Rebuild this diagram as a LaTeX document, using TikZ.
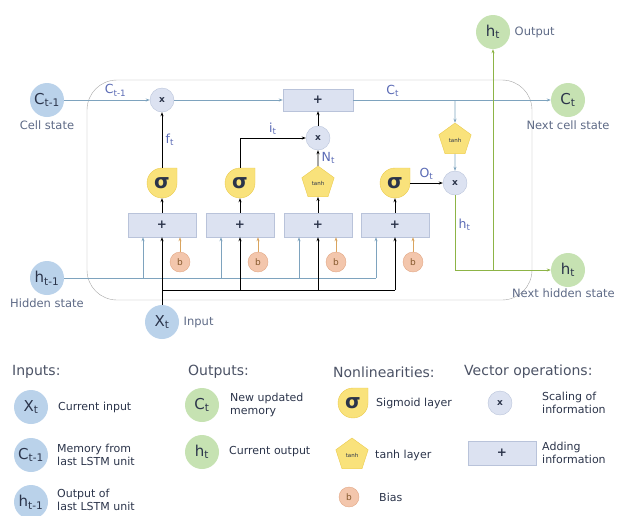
\documentclass[tikz,border=0pt]{standalone}
\usepackage{fontspec}
\setmainfont{DejaVu Sans}
\usetikzlibrary{arrows.meta, positioning, shapes.geometric}

\definecolor{inblue}{HTML}{BAD2EA}
\definecolor{outgreen}{HTML}{C6E2B2}
\definecolor{sigyellow}{HTML}{F9E27B}
\definecolor{sigedge}{HTML}{EBCB4E}
\definecolor{biasfill}{HTML}{F3C6AC}
\definecolor{biasedge}{HTML}{E2A684}
\definecolor{opfill}{HTML}{DCE2F1}
\definecolor{opedge}{HTML}{B9C3DA}
\definecolor{cellline}{HTML}{7EA3BE}
\definecolor{greenline}{HTML}{8DB446}
\definecolor{biasline}{HTML}{D9A45F}
\definecolor{labblue}{HTML}{5B6BB5}
\definecolor{capgrey}{HTML}{5E6A86}
\definecolor{ink}{HTML}{2B344A}

\begin{document}
\begin{tikzpicture}[
    x=1pt, y=-1pt,
    inp/.style={circle, fill=inblue, minimum size=34pt, inner sep=0pt, text=ink, font=\fontsize{15}{15}\selectfont},
    outp/.style={inp, fill=outgreen},
    gate/.style={circle, minimum size=30pt, inner sep=0pt, text=ink, font=\fontsize{20}{20}\selectfont\bfseries},
    tanhgate/.style={regular polygon, regular polygon sides=5, fill=sigyellow, draw=sigedge, minimum size=34pt, inner sep=0pt, text=ink, font=\fontsize{5.5}{6}\selectfont},
    mult/.style={circle, fill=opfill, draw=opedge, minimum size=24pt, inner sep=0pt, text=ink, font=\bfseries\small},
    addbox/.style={rectangle, fill=opfill, draw=opedge, minimum width=68pt, minimum height=24pt, inner sep=0pt, text=ink, font=\bfseries\large},
    bias/.style={circle, fill=biasfill, draw=biasedge, minimum size=20pt, inner sep=0pt, text=brown!70!black, font=\small},
    caption/.style={text=capgrey, font=\fontsize{11.5}{13}\selectfont},
    lab/.style={text=labblue, font=\fontsize{12.5}{12.5}\selectfont},
    line/.style={draw, -{Stealth[length=4pt]}, thick},
    hline/.style={draw=cellline, -{Stealth[length=4pt]}, line width=0.9pt},
    gline/.style={draw=greenline, -{Stealth[length=4pt]}, thick},
    bline/.style={draw=biasline, -{Stealth[length=4pt]}, semithick},
    legend/.style={text=ink, font=\fontsize{11}{12.5}\selectfont, align=left, anchor=west, inner sep=0pt},
    head/.style={text=ink!85, font=\fontsize{14}{14}\selectfont, anchor=west, inner sep=0pt}
]
    \useasboundingbox (0,0) rectangle (617,515);

    % cell frame
    \draw[gray!70] [rounded corners=30pt] (87,80) rectangle (532,300);

    % inputs and outputs
    \node[inp] (cin) at (47,100) {C\textsubscript{t-1}};
    \node[caption, below=0pt of cin] (cincap) {Cell state};
    \node[inp] (hin) at (47,278) {h\textsubscript{t-1}};
    \node[caption, below=0pt of hin] (hincap) {Hidden state};
    \node[inp] (xin) at (162,322) {X\textsubscript{t}};
    \node[caption, right=1pt of xin] (xincap) {Input};
    \node[outp] (cout) at (568,100) {C\textsubscript{t}};
    \node[caption, below=0pt of cout] (coutcap) {Next cell state};
    \node[outp] (hout) at (568,270) {h\textsubscript{t}};
    \node[caption, anchor=north east, inner sep=1pt] (houtcap) at (616,288) {Next hidden state};
    \node[outp] (htop) at (493,32) {h\textsubscript{t}};
    \node[caption, right=1pt of htop] (htopcap) {Output};

    % vector operations on the cell line
    \node[mult] (fmul) at (162,100) {x};
    \node[addbox, minimum width=70pt, minimum height=22pt] (cadd) at (318,100) {+};
    \node[mult] (imul) at (318,138) {x};
    \node[tanhgate] (ctanh) at (455,140) {tanh};
    \node[mult] (omul) at (455,183) {x};

    % gates
    \foreach \gx/\gn in {162/sf, 240/si, 395/so}{
        \draw[fill=sigyellow, draw=sigedge] (\gx+15,183) arc[start angle=0, end angle=270, radius=15] -- ++(15,0) -- cycle;
        \node[gate] (\gn) at (\gx,183) {σ};
    }
    \node[tanhgate] (ngate) at (318,183) {tanh};

    % adders and biases
    \foreach \an/\ax in {af/162, ai/240, an/318, ao/395}
        \node[addbox] (\an) at (\ax,225) {+};
    \foreach \bn/\bx in {bf/180, bi/258, bn/336, bo/413}
        \node[bias] (\bn) at (\bx,262) {b};

    % cell line
    \draw[hline] (cin) -- node[lab, above, pos=0.6] {C\textsubscript{t-1}} (fmul);
    \draw[hline] (fmul) -- (cadd);
    \draw[hline] (cadd) -- node[lab, above, pos=0.2] {C\textsubscript{t}} (cout);
    \coordinate (ctap) at (ctanh |- cadd);
    \draw[hline] (ctap) -- (ctanh);
    \draw[hline] (ctanh) -- (omul);

    % gate outputs
    \draw[line] (sf) -- node[lab, right] {f\textsubscript{t}} (fmul);
    \draw[line] (si) |- node[lab, above, pos=0.75] {i\textsubscript{t}} (imul);
    \draw[line] (ngate) -- node[lab, right] {N\textsubscript{t}} (imul);
    \draw[line] (imul) -- (cadd);
    \draw[line] (so) -- node[lab, above] {O\textsubscript{t}} (omul);
    \foreach \a/\g in {af/sf, ai/si, an/ngate, ao/so}
        \draw[line] (\a) -- (\g);

    % hidden output
    \draw[gline] (omul) |- node[lab, right, pos=0.2] {h\textsubscript{t}} (hout);
    \coordinate (hsplit) at (htop |- hout);
    \draw[gline] (hsplit) -- (htop);

    % hidden state into the adders
    \foreach \a in {af, ai, an, ao}
        \coordinate (h\a) at ([xshift=-19pt]\a.south);
    \draw[cellline, line width=0.9pt] (hin) -- (hao |- hin);
    \foreach \a in {af, ai, an, ao}
        \draw[hline] (h\a |- hin) -- (h\a);

    % input into the adders
    \coordinate (xbus) at (162,290);
    \draw[line] (xin) -- (af);
    \draw[thick] (xbus) -- (ao |- xbus);
    \foreach \a in {ai, an, ao}
        \draw[line] (\a |- xbus) -- (\a);

    % biases into the adders
    \foreach \b in {bf, bi, bn, bo}
        \draw[bline] (\b) -- (\b |- af.south);

    % legend
    \node[head] (legin) at (12,372) {Inputs:};
    \node[inp] (lx) at (31,407) {X\textsubscript{t}};
    \node[legend] (lxt) at (58,407) {Current input};
    \node[inp] (lc) at (31,455) {C\textsubscript{t-1}};
    \node[legend] (lct) at (57,455) {Memory from\\last LSTM unit};
    \node[inp] (lh) at (31,502) {h\textsubscript{t-1}};
    \node[legend] (lht) at (57,500) {Output of\\last LSTM unit};

    \node[head] (legout) at (188,372) {Outputs:};
    \node[outp] (loc) at (202,405) {C\textsubscript{t}};
    \node[legend] (loct) at (230,405) {New updated\\memory};
    \node[outp] (loh) at (202,452) {h\textsubscript{t}};
    \node[legend] (loht) at (229,452) {Current output};

    \node[head] (legnl) at (333,372) {Nonlinearities:};
    \draw[fill=sigyellow, draw=sigedge] (368,403) arc[start angle=0, end angle=270, radius=15] -- ++(15,0) -- cycle;
    \node[gate] (lsig) at (353,403) {σ};
    \node[legend] (lsigt) at (376,403) {Sigmoid layer};
    \node[tanhgate] (ltanh) at (352,455) {tanh};
    \node[legend] (ltanht) at (375,455) {tanh layer};
    \node[bias] (lb) at (349,497) {b};
    \node[legend] (lbt) at (379,497) {Bias};

    \node[head] (legvo) at (464,372) {Vector operations:};
    \node[mult] (lmul) at (500,403) {x};
    \node[legend] (lmult) at (542,403) {Scaling of\\information};
    \node[addbox] (ladd) at (502,453) {+};
    \node[legend] (laddt) at (542,453) {Adding\\information};
\end{tikzpicture}
\end{document}
